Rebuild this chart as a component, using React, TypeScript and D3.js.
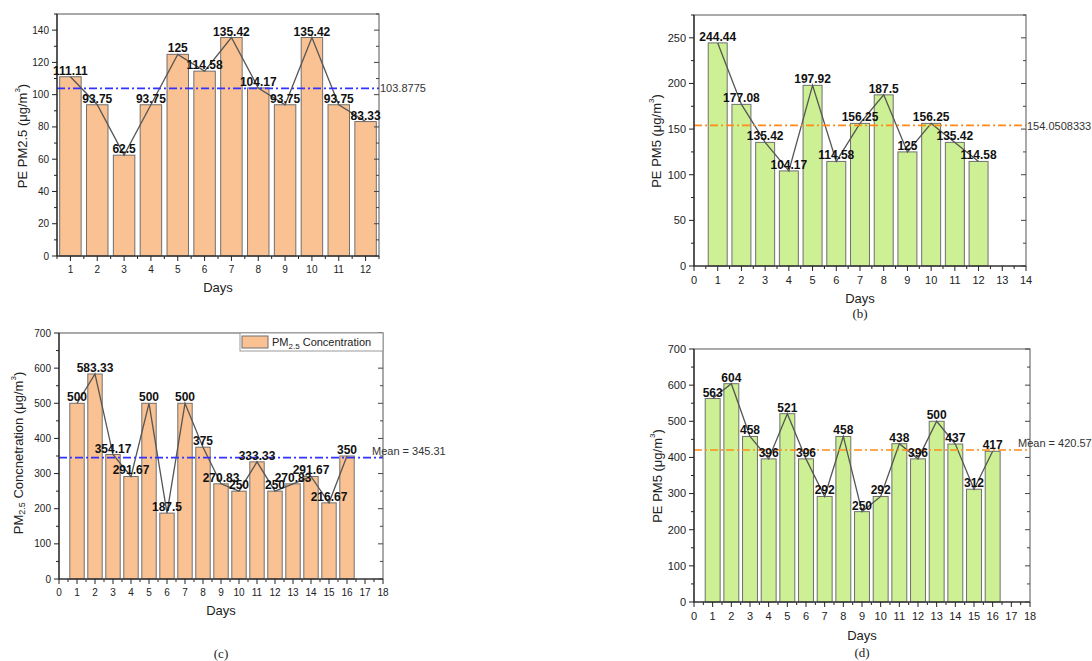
import React from 'react';
import * as d3 from 'd3';

// ---------- DATA ----------
const daysAB = [1, 2, 3, 4, 5, 6, 7, 8, 9, 10, 11, 12];
const daysCD = [1, 2, 3, 4, 5, 6, 7, 8, 9, 10, 11, 12, 13, 14, 15, 16];
const pePM25 = [111.11, 93.75, 62.5, 93.75, 125, 114.58, 135.42, 104.17, 93.75, 135.42, 93.75, 83.33];
const pePM5b = [244.44, 177.08, 135.42, 104.17, 197.92, 114.58, 156.25, 187.5, 125, 156.25, 135.42, 114.58];
const pm25Conc = [500, 583.33, 354.17, 291.67, 500, 187.5, 500, 375, 270.83, 250, 333.33, 250, 270.83, 291.67, 216.67, 350];
const pePM5d = [563, 604, 458, 396, 521, 396, 292, 458, 250, 292, 438, 396, 500, 437, 312, 417];
const meanA = 103.8775;
const meanB = 154.0508333;
const meanC = 345.31;
const meanD = 420.57;
const meanLabelA = '103.8775';
const meanLabelB = '154.0508333';
const meanLabelC = 'Mean = 345.31';
const meanLabelD = 'Mean = 420.57';
const xTicksA = [1, 2, 3, 4, 5, 6, 7, 8, 9, 10, 11, 12];
const xTicksB = [0, 1, 2, 3, 4, 5, 6, 7, 8, 9, 10, 11, 12, 13, 14];
const xTicksCD = [0, 1, 2, 3, 4, 5, 6, 7, 8, 9, 10, 11, 12, 13, 14, 15, 16, 17, 18];
const yTicksA = [0, 20, 40, 60, 80, 100, 120, 140];
const yTicksB = [0, 50, 100, 150, 200, 250];
const yTicksCD = [0, 100, 200, 300, 400, 500, 600, 700];

const FONT = "'Liberation Sans', Arial, Helvetica, sans-serif";
const PEACH = '#FAC292';
const GREEN = '#CCF093';

type Cfg = {
  left: number; right: number; top: number; bottom: number;
  xDomain: [number, number]; yDomain: [number, number];
  xTicks: number[]; yTicks: number[]; yMinorStep: number;
  days: number[]; values: number[]; color: string;
  mean: number; meanLabel: string; meanColor: string;
  meanLabelX: number; meanLabelDy: number;
  tickFont: number;
  yLabel: React.ReactNode; yLabelX: number; yLabelY: number;
  daysY: number; caption?: string; captionY?: number;
};

function Panel({ c }: { c: Cfg }) {
  const x = d3.scaleLinear().domain(c.xDomain).range([c.left, c.right]);
  const y = d3.scaleLinear().domain(c.yDomain).range([c.bottom, c.top]);
  const step = x(1) - x(0);
  const bw = step * 0.8;
  const xMinor = d3.range(c.xDomain[0], c.xDomain[1] + 1e-6, 0.5).filter(v => !c.xTicks.includes(v));
  const yMinor = d3.range(0, c.yDomain[1] + 1e-6, c.yMinorStep).filter(v => !c.yTicks.includes(v));
  const line = d3.line<number>().x((_, i) => x(c.days[i])).y(d => y(d));
  const midX = (c.left + c.right) / 2;
  return (
    <g fontFamily={FONT}>
      {c.values.map((v, i) => (
        <rect key={i} x={x(c.days[i]) - bw / 2} y={y(v)} width={bw} height={y(0) - y(v)}
          fill={c.color} stroke="#6f6f6f" strokeWidth={1} />
      ))}
      <path d={line(c.values) || ''} fill="none" stroke="#555" strokeWidth={1.3} />
      <line x1={c.left} x2={c.right} y1={y(c.mean)} y2={y(c.mean)} stroke={c.meanColor}
        strokeWidth={1.7} strokeDasharray="8 3 2 3" />
      {/* frame */}
      <rect x={c.left} y={c.top} width={c.right - c.left} height={c.bottom - c.top}
        fill="none" stroke="#555" strokeWidth={1} />
      <line x1={c.left} x2={c.left} y1={c.top} y2={c.bottom} stroke="#222" strokeWidth={1.2} />
      <line x1={c.left} x2={c.right} y1={c.bottom} y2={c.bottom} stroke="#222" strokeWidth={1.2} />
      {/* x ticks */}
      {c.xTicks.map(t => (
        <g key={'xt' + t}>
          <line x1={x(t)} x2={x(t)} y1={c.bottom} y2={c.bottom + 5} stroke="#222" />
          <text x={x(t)} y={c.bottom + 7 + c.tickFont} textAnchor="middle" fontSize={c.tickFont} fill="#222">{t}</text>
        </g>
      ))}
      {xMinor.map(t => (
        <line key={'xm' + t} x1={x(t)} x2={x(t)} y1={c.bottom} y2={c.bottom + 3} stroke="#222" />
      ))}
      {/* y ticks */}
      {c.yTicks.map(t => (
        <g key={'yt' + t}>
          <line x1={c.left - 5} x2={c.left} y1={y(t)} y2={y(t)} stroke="#222" />
          <line x1={c.right - 5} x2={c.right} y1={y(t)} y2={y(t)} stroke="#444" />
          <text x={c.left - 8} y={y(t)} dy="0.35em" textAnchor="end" fontSize={c.tickFont} fill="#222">{t}</text>
        </g>
      ))}
      {yMinor.map(t => (
        <g key={'ym' + t}>
          <line x1={c.left - 3} x2={c.left} y1={y(t)} y2={y(t)} stroke="#222" />
          <line x1={c.right - 3} x2={c.right} y1={y(t)} y2={y(t)} stroke="#444" />
        </g>
      ))}
      {/* data labels */}
      {c.values.map((v, i) => (
        <text key={'dl' + i} x={x(c.days[i])} y={y(v) - 2} textAnchor="middle" fontSize={12}
          fontWeight="bold" fill="#111">{String(v)}</text>
      ))}
      <text x={c.meanLabelX} y={y(c.mean) + c.meanLabelDy} dy="0.35em" fontSize={11} fill="#333">{c.meanLabel}</text>
      <text x={midX} y={c.daysY} textAnchor="middle" fontSize={13} fill="#222">Days</text>
      <text transform={`translate(${c.yLabelX},${c.yLabelY}) rotate(-90)`} textAnchor="middle"
        dominantBaseline="central" fontSize={13} fill="#222">{c.yLabel}</text>
      {c.caption && (
        <text x={midX} y={c.captionY} textAnchor="middle" fontSize={13}
          fontFamily="'Liberation Serif', 'Times New Roman', serif" fill="#222">{c.caption}</text>
      )}
    </g>
  );
}

const sup3 = (
  <>
    <tspan dy={-5} fontSize={8}>3</tspan>
    <tspan dy={5}>)</tspan>
  </>
);

const cfgA: Cfg = {
  left: 57, right: 379, top: 14, bottom: 256,
  xDomain: [0.5, 12.5], yDomain: [0, 150],
  xTicks: xTicksA, yTicks: yTicksA, yMinorStep: 10,
  days: daysAB, values: pePM25, color: PEACH,
  mean: meanA, meanLabel: meanLabelA, meanColor: '#3333ff', meanLabelX: 380, meanLabelDy: 0,
  tickFont: 10,
  yLabel: <>PE PM2.5 (μg/m{sup3}</>, yLabelX: 22, yLabelY: 136,
  daysY: 292,
};

const cfgB: Cfg = {
  left: 694, right: 1026, top: 15, bottom: 266,
  xDomain: [0, 14], yDomain: [0, 275],
  xTicks: xTicksB, yTicks: yTicksB, yMinorStep: 25,
  days: daysAB, values: pePM5b, color: GREEN,
  mean: meanB, meanLabel: meanLabelB, meanColor: '#ff8c1a', meanLabelX: 1027, meanLabelDy: 1,
  tickFont: 11,
  yLabel: <>PE PM5 (μg/m{sup3}</>, yLabelX: 656, yLabelY: 141,
  daysY: 303, caption: '(b)', captionY: 318,
};

const cfgC: Cfg = {
  left: 59, right: 383, top: 333, bottom: 579,
  xDomain: [0, 18], yDomain: [0, 700],
  xTicks: xTicksCD, yTicks: yTicksCD, yMinorStep: 50,
  days: daysCD, values: pm25Conc, color: PEACH,
  mean: meanC, meanLabel: meanLabelC, meanColor: '#3333ff', meanLabelX: 372, meanLabelDy: -6,
  tickFont: 10,
  yLabel: <>PM<tspan dy={4} fontSize={9}>2.5</tspan><tspan dy={-4}> Concnetration  (μg/m</tspan>{sup3}</>,
  yLabelX: 18, yLabelY: 453,
  daysY: 615, caption: '(c)', captionY: 658,
};

const cfgD: Cfg = {
  left: 694, right: 1030, top: 349, bottom: 602,
  xDomain: [0, 18], yDomain: [0, 700],
  xTicks: xTicksCD, yTicks: yTicksCD, yMinorStep: 50,
  days: daysCD, values: pePM5d, color: GREEN,
  mean: meanD, meanLabel: meanLabelD, meanColor: '#ff8c1a', meanLabelX: 1018, meanLabelDy: -7,
  tickFont: 11,
  yLabel: <>PE PM5 (μg/m{sup3}</>, yLabelX: 657, yLabelY: 476,
  daysY: 640, caption: '(d)', captionY: 657,
};

export default function App() {
  return (
    <svg width={1092} height={661} viewBox="0 0 1092 661"
      style={{ position: 'absolute', left: 0, top: 0, background: '#fff' }}>
      <rect width={1092} height={661} fill="#fff" />
      <Panel c={cfgA} />
      <Panel c={cfgB} />
      <Panel c={cfgC} />
      <Panel c={cfgD} />
      {/* legend for (c) */}
      <g fontFamily={FONT}>
        <rect x={240} y={333} width={143} height={18} fill="#fff" stroke="#999" strokeWidth={1} />
        <rect x={242} y={336} width={26} height={12} fill={PEACH} stroke="#6f6f6f" />
        <text x={272} y={346} fontSize={11} fill="#222">PM<tspan dy={3} fontSize={8}>2.5</tspan><tspan dy={-3}> Concentration</tspan></text>
      </g>
    </svg>
  );
}
